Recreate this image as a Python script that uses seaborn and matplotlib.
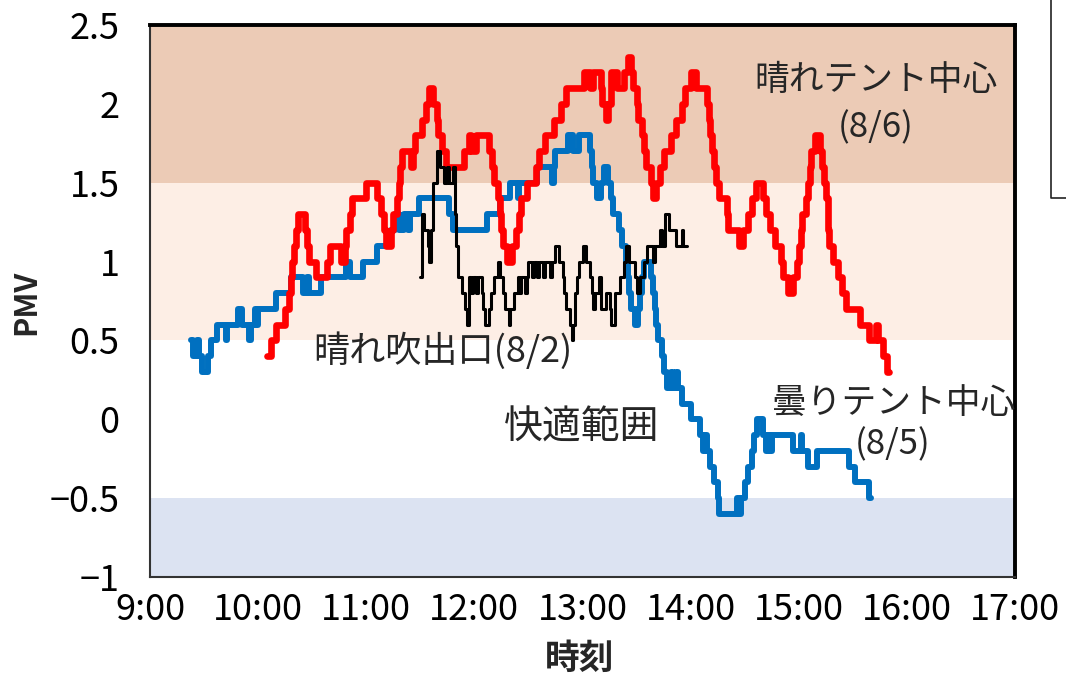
import matplotlib
matplotlib.use("Agg")
import matplotlib.pyplot as plt
import seaborn as sns
import pandas as pd
from matplotlib.lines import Line2D

# ---------------- data ----------------
red_time = ["10:05","10:07","10:10","10:15","10:17","10:18","10:19","10:20","10:21","10:22",
            "10:26","10:27","10:28","10:32","10:38","10:40","10:46","10:48","10:49","10:51",
            "10:52","11:00","11:06","11:08","11:10","11:11","11:14","11:15","11:17","11:18",
            "11:19","11:20","11:25","11:26","11:27","11:31","11:33","11:35","11:37","11:39",
            "11:40","11:42","11:44","11:54","11:57","11:58","12:01","12:08","12:10","12:11",
            "12:13","12:14","12:15","12:16","12:18","12:21","12:23","12:25","12:26","12:29",
            "12:34","12:36","12:39","12:44","12:48","12:51","13:01","13:04","13:06","13:10",
            "13:11","13:13","13:14","13:16","13:19","13:23","13:25","13:27","13:28","13:30",
            "13:31","13:33","13:34","13:35","13:38","13:39","13:41","13:43","13:45","13:49",
            "13:52","13:55","13:57","14:00","14:03","14:09","14:10","14:11","14:12","14:13",
            "14:14","14:16","14:20","14:21","14:27","14:29","14:32","14:34","14:36","14:40",
            "14:42","14:44","14:47","14:50","14:51","14:54","14:57","14:59","15:00","15:01",
            "15:02","15:04","15:05","15:06","15:07","15:09","15:12","15:13","15:14","15:15",
            "15:16","15:17","15:19","15:22","15:24","15:26","15:34","15:39","15:43","15:44",
            "15:47","15:49","15:50"]
red_pmv = [0.4,0.5,0.6,0.7,0.8,0.9,1.0,1.1,1.2,1.3,
           1.2,1.1,1.0,0.9,1.0,1.1,1.0,1.1,1.2,1.3,
           1.4,1.5,1.4,1.3,1.2,1.1,1.2,1.3,1.4,1.5,
           1.6,1.7,1.6,1.7,1.8,1.9,2.0,2.1,2.0,1.9,
           1.8,1.7,1.6,1.7,1.8,1.7,1.8,1.7,1.6,1.5,
           1.4,1.3,1.2,1.1,1.0,1.1,1.2,1.3,1.4,1.5,
           1.6,1.7,1.8,1.9,2.0,2.1,2.2,2.1,2.2,2.1,
           2.0,1.9,2.0,2.2,2.1,2.2,2.3,2.2,2.1,2.0,
           1.9,1.8,1.7,1.6,1.5,1.4,1.5,1.6,1.7,1.8,
           1.9,2.0,2.1,2.2,2.1,2.0,1.9,1.8,1.7,1.6,
           1.5,1.4,1.3,1.2,1.1,1.2,1.3,1.4,1.5,1.4,
           1.3,1.2,1.1,1.0,0.9,0.8,0.9,1.0,1.1,1.2,
           1.3,1.4,1.5,1.6,1.7,1.8,1.7,1.6,1.5,1.4,
           1.2,1.1,1.0,0.9,0.8,0.7,0.6,0.5,0.6,0.5,
           0.4,0.3,0.3]

blue_time = ["9:23","9:24","9:26","9:27","9:29","9:32","9:34","9:37","9:42","9:43",
             "9:49","9:51","9:55","9:56","9:58","9:59","10:00","10:10","10:18","10:25",
             "10:27","10:28","10:35","10:49","10:51","10:58","11:06","11:14","11:16","11:18",
             "11:21","11:23","11:24","11:29","11:46","11:48","12:07","12:14","12:20","12:24",
             "12:25","12:35","12:43","12:44","12:45","12:52","12:55","12:58","13:04","13:05",
             "13:06","13:08","13:10","13:12","13:14","13:16","13:17","13:20","13:22","13:24",
             "13:25","13:26","13:27","13:29","13:31","13:32","13:33","13:34","13:38","13:39",
             "13:40","13:41","13:42","13:44","13:45","13:47","13:49","13:50","13:52","13:53",
             "13:55","14:00","14:05","14:07","14:08","14:09","14:11","14:13","14:15","14:16",
             "14:26","14:27","14:28","14:30","14:32","14:34","14:35","14:37","14:40","14:42",
             "14:43","14:44","14:45","14:57","15:01","15:02","15:05","15:10","15:28","15:31",
             "15:39","15:40"]
blue_pmv = [0.5,0.4,0.5,0.4,0.3,0.4,0.5,0.6,0.5,0.6,
            0.7,0.6,0.5,0.6,0.7,0.6,0.7,0.8,0.9,0.8,
            0.9,0.8,0.9,1.0,0.9,1.0,1.1,1.2,1.3,1.2,
            1.3,1.2,1.3,1.4,1.3,1.2,1.3,1.4,1.5,1.4,
            1.5,1.6,1.5,1.6,1.7,1.8,1.7,1.8,1.7,1.6,
            1.5,1.4,1.5,1.6,1.5,1.4,1.3,1.2,1.1,1.0,
            0.9,0.8,0.7,0.6,0.7,0.8,0.9,1.0,0.9,0.8,
            0.7,0.6,0.5,0.4,0.3,0.2,0.3,0.2,0.3,0.2,
            0.1,0.0,-0.1,-0.2,-0.1,-0.2,-0.3,-0.4,-0.5,-0.6,
            -0.5,-0.6,-0.5,-0.4,-0.3,-0.2,-0.1,0.0,-0.1,-0.2,
            -0.1,-0.2,-0.1,-0.2,-0.1,-0.2,-0.3,-0.2,-0.3,-0.4,
            -0.5,-0.5]

black_time = ["11:30","11:31","11:32","11:34","11:35","11:36","11:37","11:39","11:41","11:43",
              "11:45","11:46","11:48","11:49","11:50","11:51","11:53","11:55","11:56","11:57",
              "11:58","11:59","12:01","12:02","12:04","12:05","12:06","12:08","12:09","12:11",
              "12:13","12:14","12:16","12:17","12:19","12:20","12:22","12:24","12:25","12:26",
              "12:28","12:29","12:30","12:32","12:33","12:35","12:36","12:38","12:39","12:42",
              "12:43","12:45","12:47","12:49","12:50","12:51","12:53","12:54","12:55","12:56",
              "12:57","12:58","13:00","13:02","13:04","13:05","13:06","13:07","13:09","13:10",
              "13:13","13:15","13:16","13:18","13:21","13:23","13:24","13:26","13:29","13:30",
              "13:32","13:34","13:36","13:39","13:40","13:43","13:44","13:46","13:48","13:52",
              "13:55","13:56","13:58"]
black_pmv = [0.9,1.3,1.2,1.1,1.0,1.2,1.5,1.7,1.6,1.5,
             1.6,1.5,1.6,1.3,1.1,0.9,0.8,0.7,0.6,0.9,
             0.8,0.9,0.8,0.9,0.8,0.7,0.6,0.7,0.8,0.9,
             1.0,0.9,0.8,0.7,0.6,0.7,0.8,0.9,0.8,0.9,
             0.8,0.9,1.0,0.9,1.0,0.9,1.0,0.9,1.0,0.9,
             1.0,1.1,1.0,0.9,0.8,0.7,0.6,0.5,0.6,0.8,
             0.9,1.0,1.1,1.0,0.9,0.8,0.7,0.8,0.9,0.7,
             0.8,0.7,0.6,0.8,0.9,1.0,1.1,1.0,0.9,0.8,
             0.9,1.0,1.1,1.0,1.1,1.2,1.1,1.3,1.2,1.1,
             1.2,1.1,1.1]

x_ticks = [9, 10, 11, 12, 13, 14, 15, 16, 17]
x_labels = ["9:00", "10:00", "11:00", "12:00", "13:00", "14:00", "15:00", "16:00", "17:00"]
y_ticks = [-1, -0.5, 0, 0.5, 1, 1.5, 2, 2.5]
y_labels = ["\u22121", "\u22120.5", "0", "0.5", "1", "1.5", "2", "2.5"]

# background bands (PMV ranges)
band_lo = [1.5, 0.5, -1.0]
band_hi = [2.5, 1.5, -0.5]
band_col = ["#ECCBB6", "#FDEEE5", "#DCE3F2"]


def to_hours(ts):
    out = []
    for t in ts:
        h, m = t.split(":")
        out.append(int(h) + int(m) / 60.0)
    return out


sns.set_theme(style="white")
plt.rcParams["font.family"] = ["Noto Sans CJK JP", "DejaVu Sans"]

fig = plt.figure(figsize=(10.66, 6.82), dpi=100)
ax = fig.add_axes([150 / 1066, 105 / 682, 865 / 1066, 552 / 682])

for lo, hi, c in zip(band_lo, band_hi, band_col):
    ax.axhspan(lo, hi, color=c, lw=0, zorder=0)

df_b = pd.DataFrame({"t": to_hours(blue_time), "v": blue_pmv})
df_r = pd.DataFrame({"t": to_hours(red_time), "v": red_pmv})
df_k = pd.DataFrame({"t": to_hours(black_time), "v": black_pmv})

sns.lineplot(data=df_b, x="t", y="v", ax=ax, color="#0070C0", lw=4.3,
             drawstyle="steps-post", estimator=None, sort=False, zorder=3)
sns.lineplot(data=df_r, x="t", y="v", ax=ax, color="#FF0000", lw=4.8,
             drawstyle="steps-post", estimator=None, sort=False, zorder=4)
sns.lineplot(data=df_k, x="t", y="v", ax=ax, color="black", lw=2.2,
             drawstyle="steps-post", estimator=None, sort=False, zorder=5)

ax.set_xlim(9, 17)
ax.set_ylim(-1, 2.5)
ax.set_xticks(x_ticks)
ax.set_xticklabels(x_labels)
ax.set_yticks(y_ticks)
ax.set_yticklabels(y_labels)
ax.tick_params(axis="both", direction="in", length=9, width=1.2, color="#B0B0B0",
               labelsize=26, labelcolor="black")
ax.tick_params(axis="x", pad=11)
ax.tick_params(axis="y", pad=22)
ax.grid(False)

for side in ["left", "bottom"]:
    ax.spines[side].set_color("#333333")
    ax.spines[side].set_linewidth(1.5)
for side in ["top", "right"]:
    ax.spines[side].set_color("black")
    ax.spines[side].set_linewidth(2.8)

ax.set_xlabel("時刻", fontsize=25, fontweight="bold")
ax.set_ylabel("PMV", fontsize=22, fontweight="bold")
ax.xaxis.set_label_coords(0.497, -0.115)
ax.yaxis.set_label_coords(-0.125, 0.498)

ax.text(15.71, 2.15, "晴れテント中心", fontsize=25, ha="center", va="center", zorder=6)
ax.text(15.71, 1.85, "(8/6)", fontsize=25, ha="center", va="center", zorder=6)
ax.text(10.51, 0.43, "晴れ吹出口(8/2)", fontsize=26, ha="left", va="center", zorder=6)
ax.text(12.27, -0.05, "快適範囲", fontsize=28, ha="left", va="center", zorder=6)
ax.text(14.75, 0.10, "曇りテント中心", fontsize=25, ha="left", va="center", zorder=6)
ax.text(15.87, -0.16, "(8/5)", fontsize=25, ha="center", va="center", zorder=6)

# partially visible box at the top right edge
fig.add_artist(Line2D([1051 / 1066, 1051 / 1066, 1.0], [1.0, 1 - 198 / 682, 1 - 198 / 682],
                      transform=fig.transFigure, color="#222222", lw=1.2))

fig.savefig("out.png", dpi=100)
